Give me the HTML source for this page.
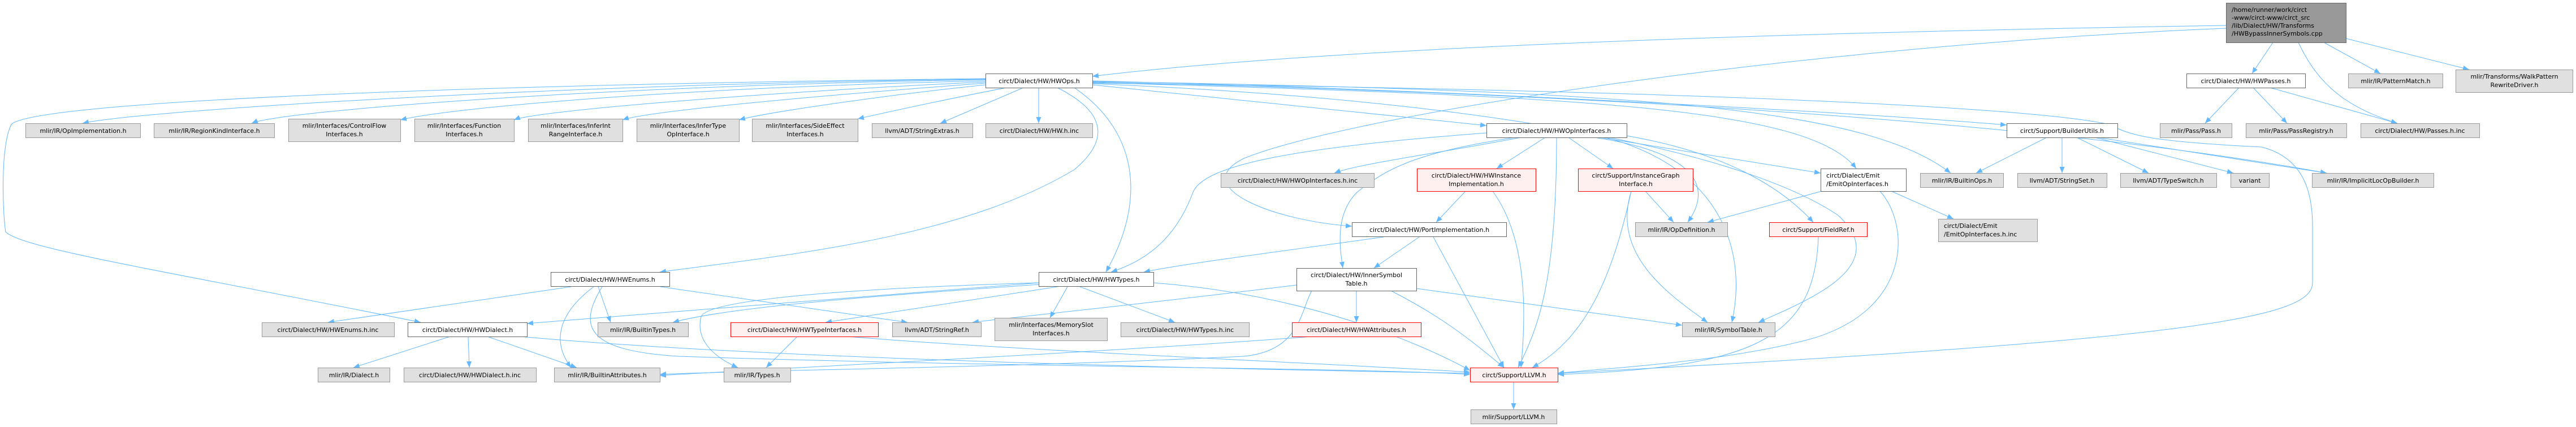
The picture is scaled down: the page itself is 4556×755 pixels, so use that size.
<!DOCTYPE html>
<html><head><meta charset="utf-8"><style>
html,body{margin:0;padding:0;background:#fff;}
svg{display:block;}
text{font-family:"DejaVu Sans","Liberation Sans",sans-serif;font-size:11px;fill:#000;}
.w rect{fill:#fff;stroke:#666;}
.g rect{fill:#e0e0e0;stroke:#999;}
.r rect{fill:#fff0f0;stroke:#f00;}
.m rect{fill:#999;stroke:#666;}
path.e{fill:none;stroke:#63b8ff;stroke-width:1;}
</style></head><body>
<svg width="4556" height="755" viewBox="0 0 4556 755" xmlns="http://www.w3.org/2000/svg">
<defs><marker id="a" markerUnits="userSpaceOnUse" markerWidth="12" markerHeight="9" refX="11" refY="4.5" orient="auto"><path d="M0,0 L11,4.5 L0,9 z" fill="#63b8ff"/></marker></defs>
<g marker-end="url(#a)">
<path class="e" d="M3937,45 C3000,60 2300,90 1932,135"/>
<path class="e" d="M3937,50 C3200,80 2400,200 2200,280 C2100,330 2250,390 2391,400"/>
<path class="e" d="M4020,75 L3983,130"/>
<path class="e" d="M4110,75 L4210,130"/>
<path class="e" d="M4149,68 L4367,123"/>
<path class="e" d="M4065,75 C4100,150 4150,190 4240,218"/>
<path class="e" d="M1743,140 C1000,148 250,195 146,218"/>
<path class="e" d="M1743,141 C1100,150 500,195 445,218"/>
<path class="e" d="M1743,143 C1200,155 800,190 708,212"/>
<path class="e" d="M1743,145 C1400,160 950,195 909,212"/>
<path class="e" d="M1743,147 C1500,165 1150,195 1101,212"/>
<path class="e" d="M1743,150 C1550,170 1350,200 1307,212"/>
<path class="e" d="M1780,155 C1650,180 1540,205 1517,210"/>
<path class="e" d="M1810,155 L1663,218"/>
<path class="e" d="M1837,155 L1837,218"/>
<path class="e" d="M1743,139 C800,150 60,180 20,220 C0,260 5,380 10,410 C40,440 300,480 744,570"/>
<path class="e" d="M1870,155 C1960,200 1960,250 1900,300 C1700,420 1400,450 1167,481"/>
<path class="e" d="M1900,155 C2010,230 2030,350 1956,481"/>
<path class="e" d="M1932,150 L2629,222"/>
<path class="e" d="M1932,146 C2800,170 3200,190 3283,298"/>
<path class="e" d="M1932,144 C2900,160 3300,190 3450,306"/>
<path class="e" d="M1932,143 C2600,160 3300,200 3549,221"/>
<path class="e" d="M1932,145 C3000,170 3700,230 4115,306"/>
<path class="e" d="M1932,147 C3000,160 3600,190 3730,220 C3770,240 3800,250 4000,260 C4080,280 4090,350 4090,400 L4090,500 C4090,560 3900,600 2755,660"/>
<path class="e" d="M1932,148 C2700,180 3100,280 3250,380 C3350,470 3200,530 3110,570"/>
<path class="e" d="M2690,243 C2550,270 2400,290 2360,306"/>
<path class="e" d="M2733,243 L2647,298"/>
<path class="e" d="M2774,243 L2853,298"/>
<path class="e" d="M2753,243 C2753,500 2720,580 2685,650"/>
<path class="e" d="M2820,243 C3000,270 3030,330 2985,393"/>
<path class="e" d="M2840,243 C3050,300 3090,450 3063,570"/>
<path class="e" d="M2830,243 L3220,306"/>
<path class="e" d="M2877,240 C3050,270 3150,330 3207,393"/>
<path class="e" d="M2680,243 C2500,270 2450,300 2400,340 C2360,380 2370,440 2375,474"/>
<path class="e" d="M2629,235 C2300,260 2130,290 2110,340 C2080,420 2030,460 1965,481"/>
<path class="e" d="M2592,338 L2540,393"/>
<path class="e" d="M2640,338 C2700,420 2700,550 2690,650"/>
<path class="e" d="M2910,338 L2960,393"/>
<path class="e" d="M2885,338 C2850,450 2950,520 3020,570"/>
<path class="e" d="M2885,338 C2850,500 2800,600 2710,650"/>
<path class="e" d="M3222,338 L3020,393"/>
<path class="e" d="M3345,338 L3455,387"/>
<path class="e" d="M3325,338 C3380,400 3380,550 3200,600 C3050,640 2850,650 2755,660"/>
<path class="e" d="M3216,419 C3210,600 3100,650 2755,662"/>
<path class="e" d="M2510,419 L2430,474"/>
<path class="e" d="M2535,419 L2660,650"/>
<path class="e" d="M2447,419 C2300,440 2100,465 2023,481"/>
<path class="e" d="M2399,514 L2399,570"/>
<path class="e" d="M2505,510 L2975,575"/>
<path class="e" d="M2460,514 C2550,560 2600,600 2660,650"/>
<path class="e" d="M2293,504 C2000,540 1800,560 1720,570"/>
<path class="e" d="M2320,514 C2300,550 2300,620 2200,630 C1800,650 1300,655 1167,662"/>
<path class="e" d="M2320,595 C2000,620 1400,650 1167,664"/>
<path class="e" d="M1837,500 L932,572"/>
<path class="e" d="M1837,503 C1600,520 1300,540 1190,570"/>
<path class="e" d="M1837,500 C1500,510 1250,530 1240,560 C1230,600 1260,630 1305,650"/>
<path class="e" d="M1870,507 L1460,570"/>
<path class="e" d="M1888,507 L1857,562"/>
<path class="e" d="M1910,507 L2078,570"/>
<path class="e" d="M2040,500 C2300,520 2500,600 2600,655"/>
<path class="e" d="M1010,507 L580,570"/>
<path class="e" d="M1058,507 L1080,570"/>
<path class="e" d="M1050,507 C980,560 980,610 1010,650"/>
<path class="e" d="M1065,507 C1020,580 1040,620 1200,630 C1800,650 2400,650 2600,662"/>
<path class="e" d="M1168,507 L1605,570"/>
<path class="e" d="M796,595 L625,650"/>
<path class="e" d="M828,595 L830,650"/>
<path class="e" d="M862,595 L1020,650"/>
<path class="e" d="M920,595 C1300,630 2000,650 2600,660"/>
<path class="e" d="M1410,595 L1355,650"/>
<path class="e" d="M1500,595 C1800,620 2300,640 2600,658"/>
<path class="e" d="M2677,675 L2677,724"/>
<path class="e" d="M3620,243 L3495,306"/>
<path class="e" d="M3647,243 L3647,306"/>
<path class="e" d="M3673,243 L3800,306"/>
<path class="e" d="M3705,243 L3950,306"/>
<path class="e" d="M3710,243 L4115,306"/>
<path class="e" d="M3960,155 L3900,218"/>
<path class="e" d="M3985,155 L4045,218"/>
<path class="e" d="M4015,155 L4240,218"/>
</g>
<g text-anchor="middle">
<g class="m"><rect x="3937.5" y="5.5" width="212" height="70"/><text x="3947" y="21" text-anchor="start">/home/runner/work/circt</text><text x="3947" y="35" text-anchor="start">-www/circt-www/circt_src</text><text x="3947" y="49" text-anchor="start">/lib/Dialect/HW/Transforms</text><text x="3947" y="63" text-anchor="start">/HWBypassInnerSymbols.cpp</text></g>
<g class="w"><rect x="1743.5" y="130.5" width="189" height="25"/><text x="1838" y="147">circt/Dialect/HW/HWOps.h</text></g>
<g class="w"><rect x="3867.5" y="130.5" width="210" height="25"/><text x="3972" y="147">circt/Dialect/HW/HWPasses.h</text></g>
<g class="g"><rect x="4153.5" y="130.5" width="167" height="25"/><text x="4237" y="147">mlir/IR/PatternMatch.h</text></g>
<g class="g"><rect x="4343.5" y="123.5" width="207" height="40"/><text x="4447" y="139">mlir/Transforms/WalkPattern</text><text x="4447" y="154">RewriteDriver.h</text></g>
<g class="g"><rect x="45.5" y="218.5" width="203" height="25"/><text x="147" y="235">mlir/IR/OpImplementation.h</text></g>
<g class="g"><rect x="272.5" y="218.5" width="213" height="25"/><text x="379" y="235">mlir/IR/RegionKindInterface.h</text></g>
<g class="g"><rect x="510.5" y="210.5" width="198" height="40"/><text x="609" y="226">mlir/Interfaces/ControlFlow</text><text x="609" y="241">Interfaces.h</text></g>
<g class="g"><rect x="733.5" y="210.5" width="176" height="40"/><text x="821" y="226">mlir/Interfaces/Function</text><text x="821" y="241">Interfaces.h</text></g>
<g class="g"><rect x="934.5" y="210.5" width="167" height="40"/><text x="1018" y="226">mlir/Interfaces/InferInt</text><text x="1018" y="241">RangeInterface.h</text></g>
<g class="g"><rect x="1126.5" y="210.5" width="181" height="40"/><text x="1217" y="226">mlir/Interfaces/InferType</text><text x="1217" y="241">OpInterface.h</text></g>
<g class="g"><rect x="1330.5" y="210.5" width="187" height="40"/><text x="1424" y="226">mlir/Interfaces/SideEffect</text><text x="1424" y="241">Interfaces.h</text></g>
<g class="g"><rect x="1542.5" y="218.5" width="178" height="25"/><text x="1631" y="235">llvm/ADT/StringExtras.h</text></g>
<g class="g"><rect x="1743.5" y="218.5" width="189" height="25"/><text x="1838" y="235">circt/Dialect/HW/HW.h.inc</text></g>
<g class="w"><rect x="2629.5" y="218.5" width="248" height="25"/><text x="2753" y="235">circt/Dialect/HW/HWOpInterfaces.h</text></g>
<g class="w"><rect x="3549.5" y="218.5" width="196" height="25"/><text x="3647" y="235">circt/Support/BuilderUtils.h</text></g>
<g class="g"><rect x="3820.5" y="218.5" width="127" height="25"/><text x="3884" y="235">mlir/Pass/Pass.h</text></g>
<g class="g"><rect x="3972.5" y="218.5" width="178" height="25"/><text x="4061" y="235">mlir/Pass/PassRegistry.h</text></g>
<g class="g"><rect x="4175.5" y="218.5" width="210" height="25"/><text x="4280" y="235">circt/Dialect/HW/Passes.h.inc</text></g>
<g class="g"><rect x="2159.5" y="306.5" width="271" height="25"/><text x="2295" y="323">circt/Dialect/HW/HWOpInterfaces.h.inc</text></g>
<g class="r"><rect x="2506.5" y="298.5" width="210" height="40"/><text x="2611" y="314">circt/Dialect/HW/HWInstance</text><text x="2611" y="329">Implementation.h</text></g>
<g class="r"><rect x="2791.5" y="298.5" width="203" height="40"/><text x="2893" y="314">circt/Support/InstanceGraph</text><text x="2893" y="329">Interface.h</text></g>
<g class="w"><rect x="3220.5" y="298.5" width="151" height="40"/><text x="3230" y="314" text-anchor="start">circt/Dialect/Emit</text><text x="3230" y="329" text-anchor="start">/EmitOpInterfaces.h</text></g>
<g class="g"><rect x="3396.5" y="306.5" width="147" height="25"/><text x="3470" y="323">mlir/IR/BuiltinOps.h</text></g>
<g class="g"><rect x="3568.5" y="306.5" width="158" height="25"/><text x="3647" y="323">llvm/ADT/StringSet.h</text></g>
<g class="g"><rect x="3750.5" y="306.5" width="170" height="25"/><text x="3835" y="323">llvm/ADT/TypeSwitch.h</text></g>
<g class="g"><rect x="3945.5" y="306.5" width="68" height="25"/><text x="3979" y="323">variant</text></g>
<g class="g"><rect x="4089.5" y="306.5" width="215" height="25"/><text x="4197" y="323">mlir/IR/ImplicitLocOpBuilder.h</text></g>
<g class="w"><rect x="2391.5" y="393.5" width="273" height="25"/><text x="2528" y="410">circt/Dialect/HW/PortImplementation.h</text></g>
<g class="g"><rect x="2892.5" y="393.5" width="163" height="25"/><text x="2974" y="410">mlir/IR/OpDefinition.h</text></g>
<g class="r"><rect x="3129.5" y="393.5" width="173" height="25"/><text x="3216" y="410">circt/Support/FieldRef.h</text></g>
<g class="g"><rect x="3428.5" y="387.5" width="175" height="40"/><text x="3438" y="403" text-anchor="start">circt/Dialect/Emit</text><text x="3438" y="418" text-anchor="start">/EmitOpInterfaces.h.inc</text></g>
<g class="w"><rect x="974.5" y="481.5" width="210" height="25"/><text x="1079" y="498">circt/Dialect/HW/HWEnums.h</text></g>
<g class="w"><rect x="1837.5" y="481.5" width="203" height="25"/><text x="1939" y="498">circt/Dialect/HW/HWTypes.h</text></g>
<g class="w"><rect x="2293.5" y="474.5" width="212" height="40"/><text x="2399" y="490">circt/Dialect/HW/InnerSymbol</text><text x="2399" y="505">Table.h</text></g>
<g class="g"><rect x="463.5" y="570.5" width="234" height="25"/><text x="580" y="587">circt/Dialect/HW/HWEnums.h.inc</text></g>
<g class="w"><rect x="721.5" y="570.5" width="211" height="25"/><text x="827" y="587">circt/Dialect/HW/HWDialect.h</text></g>
<g class="g"><rect x="1057.5" y="570.5" width="160" height="25"/><text x="1137" y="587">mlir/IR/BuiltinTypes.h</text></g>
<g class="r"><rect x="1292.5" y="570.5" width="261" height="25"/><text x="1423" y="587">circt/Dialect/HW/HWTypeInterfaces.h</text></g>
<g class="g"><rect x="1578.5" y="570.5" width="157" height="25"/><text x="1657" y="587">llvm/ADT/StringRef.h</text></g>
<g class="g"><rect x="1759.5" y="562.5" width="199" height="40"/><text x="1859" y="578">mlir/Interfaces/MemorySlot</text><text x="1859" y="593">Interfaces.h</text></g>
<g class="g"><rect x="1982.5" y="570.5" width="227" height="25"/><text x="2096" y="587">circt/Dialect/HW/HWTypes.h.inc</text></g>
<g class="r"><rect x="2285.5" y="570.5" width="228" height="25"/><text x="2399" y="587">circt/Dialect/HW/HWAttributes.h</text></g>
<g class="g"><rect x="2975.5" y="570.5" width="164" height="25"/><text x="3057" y="587">mlir/IR/SymbolTable.h</text></g>
<g class="g"><rect x="562.5" y="650.5" width="127" height="25"/><text x="626" y="667">mlir/IR/Dialect.h</text></g>
<g class="g"><rect x="714.5" y="650.5" width="234" height="25"/><text x="831" y="667">circt/Dialect/HW/HWDialect.h.inc</text></g>
<g class="g"><rect x="980.5" y="650.5" width="187" height="25"/><text x="1074" y="667">mlir/IR/BuiltinAttributes.h</text></g>
<g class="g"><rect x="1280.5" y="650.5" width="118" height="25"/><text x="1339" y="667">mlir/IR/Types.h</text></g>
<g class="r"><rect x="2600.5" y="650.5" width="155" height="25"/><text x="2678" y="667">circt/Support/LLVM.h</text></g>
<g class="g"><rect x="2601.5" y="724.5" width="152" height="25"/><text x="2677" y="741">mlir/Support/LLVM.h</text></g>
</g>
</svg>
</body></html>
